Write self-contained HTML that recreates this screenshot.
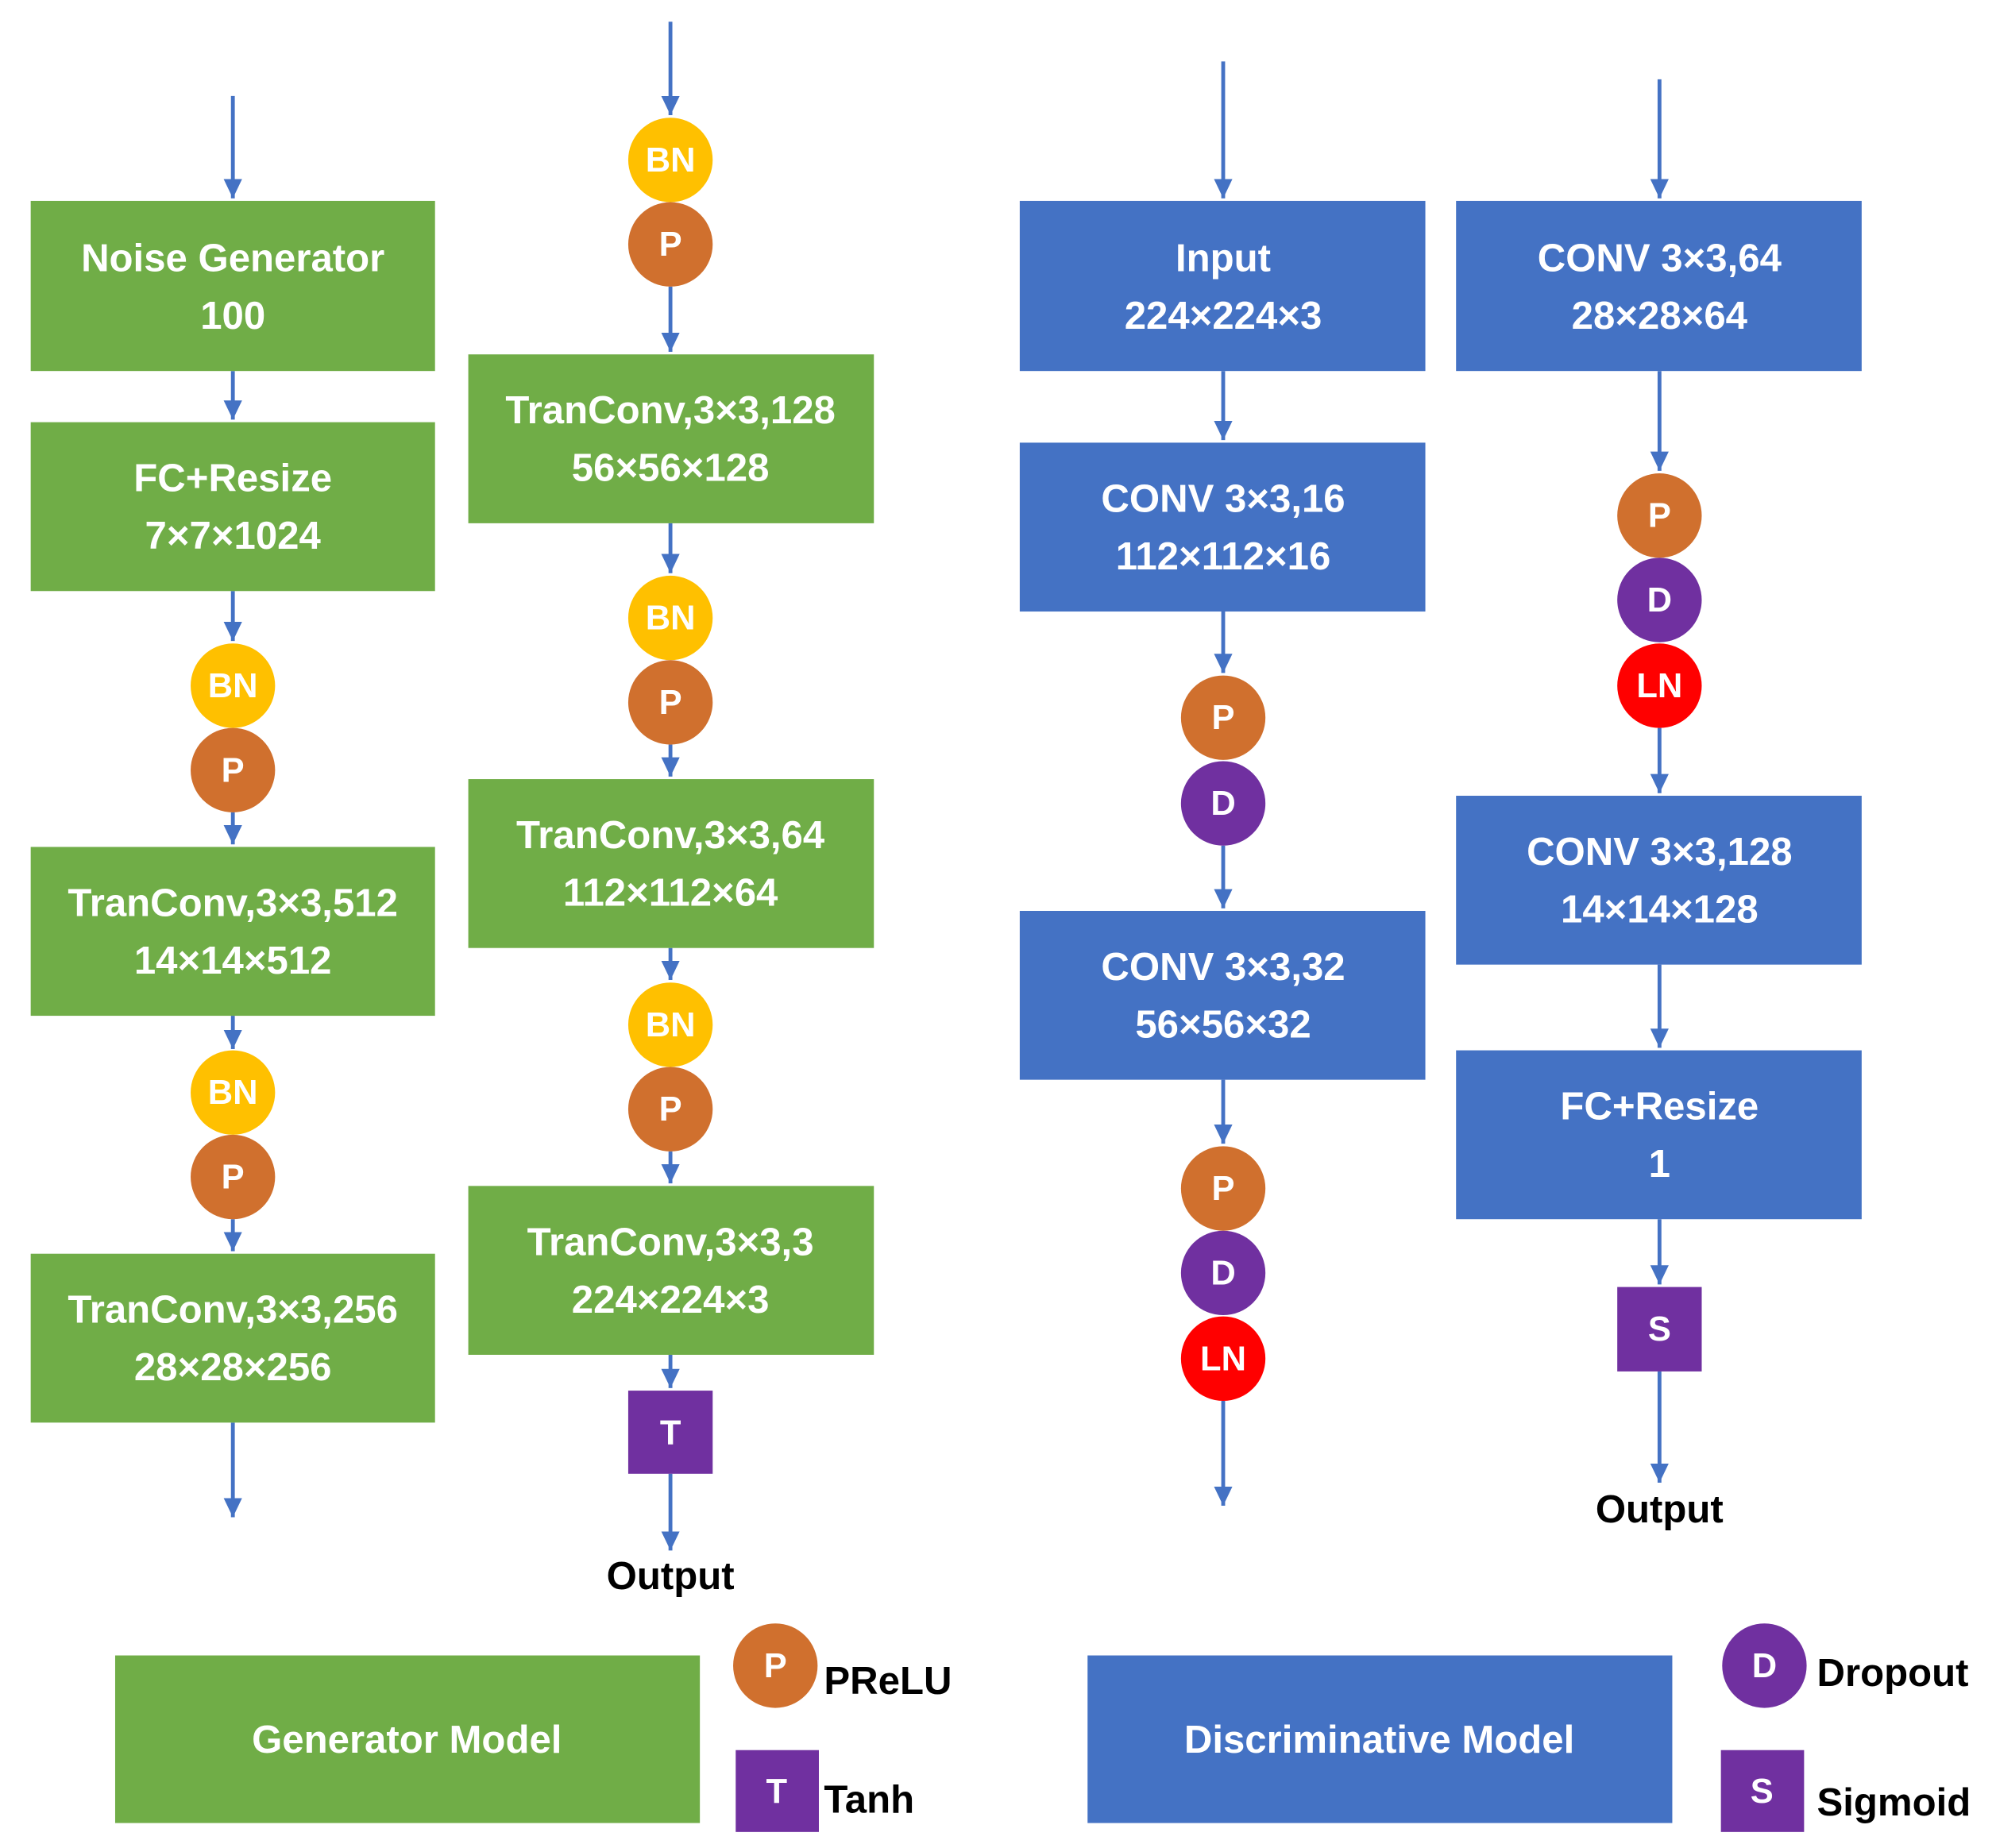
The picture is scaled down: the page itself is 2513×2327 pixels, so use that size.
<!DOCTYPE html>
<html><head><meta charset="utf-8"><style>html,body{margin:0;padding:0;background:#fff}svg{display:block}text{font-family:"Liberation Sans",sans-serif;font-weight:bold}</style></head><body>
<svg width="2513" height="2327" viewBox="0 0 1560 1444.5" xmlns="http://www.w3.org/2000/svg">
<defs><marker id="a" markerWidth="6" markerHeight="6" refX="5" refY="3" orient="auto" markerUnits="strokeWidth"><path d="M0,0.6 L5,3 L0,5.4 z" fill="#4472C4"/></marker></defs>
<g stroke="#4472C4" stroke-width="3" marker-end="url(#a)">
<line x1="182" y1="75" x2="182" y2="155"/><line x1="182" y1="290" x2="182" y2="328"/><line x1="182" y1="462" x2="182" y2="501"/><line x1="182" y1="635" x2="182" y2="660"/><line x1="182" y1="794" x2="182" y2="820"/><line x1="182" y1="953" x2="182" y2="978"/><line x1="182" y1="1112" x2="182" y2="1186"/>
<line x1="524" y1="17" x2="524" y2="90"/><line x1="524" y1="224" x2="524" y2="275"/><line x1="524" y1="409" x2="524" y2="448"/><line x1="524" y1="582" x2="524" y2="607"/><line x1="524" y1="741" x2="524" y2="766"/><line x1="524" y1="900" x2="524" y2="925"/><line x1="524" y1="1059" x2="524" y2="1085"/><line x1="524" y1="1152" x2="524" y2="1212"/>
<line x1="956" y1="48" x2="956" y2="155"/><line x1="956" y1="290" x2="956" y2="344"/><line x1="956" y1="478" x2="956" y2="526"/><line x1="956" y1="661" x2="956" y2="710"/><line x1="956" y1="844" x2="956" y2="894"/><line x1="956" y1="1095" x2="956" y2="1177"/>
<line x1="1297" y1="62" x2="1297" y2="155"/><line x1="1297" y1="290" x2="1297" y2="368"/><line x1="1297" y1="569" x2="1297" y2="620"/><line x1="1297" y1="754" x2="1297" y2="819"/><line x1="1297" y1="953" x2="1297" y2="1004"/><line x1="1297" y1="1072" x2="1297" y2="1159"/>
</g>
<g fill="#70AD47">
<rect x="24" y="157" width="316" height="133"/><rect x="24" y="330" width="316" height="132"/><rect x="24" y="662" width="316" height="132"/><rect x="24" y="980" width="316" height="132"/>
<rect x="366" y="277" width="317" height="132"/><rect x="366" y="609" width="317" height="132"/><rect x="366" y="927" width="317" height="132"/>
<rect x="90" y="1294" width="457" height="131"/>
</g>
<g fill="#4472C4">
<rect x="797" y="157" width="317" height="133"/><rect x="797" y="346" width="317" height="132"/><rect x="797" y="712" width="317" height="132"/>
<rect x="1138" y="157" width="317" height="133"/><rect x="1138" y="622" width="317" height="132"/><rect x="1138" y="821" width="317" height="132"/>
<rect x="850" y="1294" width="457" height="131"/>
</g>
<g fill="#FFC000"><circle cx="182" cy="536" r="33"/><circle cx="182" cy="854" r="33"/><circle cx="524" cy="125" r="33"/><circle cx="524" cy="483" r="33"/><circle cx="524" cy="801" r="33"/></g>
<g fill="#D0702E"><circle cx="182" cy="602" r="33"/><circle cx="182" cy="920" r="33"/><circle cx="524" cy="191" r="33"/><circle cx="524" cy="549" r="33"/><circle cx="524" cy="867" r="33"/><circle cx="956" cy="561" r="33"/><circle cx="956" cy="929" r="33"/><circle cx="1297" cy="403" r="33"/><circle cx="606" cy="1302" r="33"/></g>
<g fill="#7030A0"><circle cx="956" cy="628" r="33"/><circle cx="956" cy="995" r="33"/><circle cx="1297" cy="469" r="33"/><circle cx="1379" cy="1302" r="33"/>
<rect x="491" y="1087" width="66" height="65"/><rect x="1264" y="1006" width="66" height="66"/><rect x="575" y="1368" width="65" height="64"/><rect x="1345" y="1368" width="65" height="64"/></g>
<g fill="#FF0000"><circle cx="956" cy="1062" r="33"/><circle cx="1297" cy="536" r="33"/></g>
<g fill="#fff" font-size="30.5" text-anchor="middle">
<text x="182" y="212">Noise Generator</text><text x="182" y="257">100</text>
<text x="182" y="384">FC+Resize</text><text x="182" y="429">7×7×1024</text>
<text x="182" y="716">TranConv,3×3,512</text><text x="182" y="761">14×14×512</text>
<text x="182" y="1034">TranConv,3×3,256</text><text x="182" y="1079">28×28×256</text>
<text x="524" y="331">TranConv,3×3,128</text><text x="524" y="376">56×56×128</text>
<text x="524" y="663">TranConv,3×3,64</text><text x="524" y="708">112×112×64</text>
<text x="524" y="981">TranConv,3×3,3</text><text x="524" y="1026">224×224×3</text>
<text x="956" y="212">Input</text><text x="956" y="257">224×224×3</text>
<text x="956" y="400">CONV 3×3,16</text><text x="956" y="445">112×112×16</text>
<text x="956" y="766">CONV 3×3,32</text><text x="956" y="811">56×56×32</text>
<text x="1297" y="212">CONV 3×3,64</text><text x="1297" y="257">28×28×64</text>
<text x="1297" y="676">CONV 3×3,128</text><text x="1297" y="721">14×14×128</text>
<text x="1297" y="875">FC+Resize</text><text x="1297" y="920">1</text>
<text x="318" y="1370">Generator Model</text><text x="1078" y="1370">Discriminative Model</text>
</g>
<g fill="#fff" font-size="27" text-anchor="middle">
<text x="182" y="545">BN</text><text x="182" y="863">BN</text><text x="524" y="134">BN</text><text x="524" y="492">BN</text><text x="524" y="810">BN</text>
<text x="182" y="611">P</text><text x="182" y="929">P</text><text x="524" y="200">P</text><text x="524" y="558">P</text><text x="524" y="876">P</text><text x="956" y="570">P</text><text x="956" y="938">P</text><text x="1297" y="412">P</text><text x="606" y="1311">P</text>
<text x="956" y="637">D</text><text x="956" y="1004">D</text><text x="1297" y="478">D</text><text x="1379" y="1311">D</text>
<text x="956" y="1071">LN</text><text x="1297" y="545">LN</text>
<text x="524" y="1129">T</text><text x="1297" y="1048">S</text><text x="607" y="1409">T</text><text x="1377" y="1409">S</text>
</g>
<g fill="#000" font-size="30.5">
<text x="524" y="1242" text-anchor="middle">Output</text><text x="1297" y="1190" text-anchor="middle">Output</text>
<text x="644" y="1324">PReLU</text><text x="644" y="1417">Tanh</text>
<text x="1420" y="1318">Dropout</text><text x="1420" y="1419">Sigmoid</text>
</g>
</svg>
</body></html>
